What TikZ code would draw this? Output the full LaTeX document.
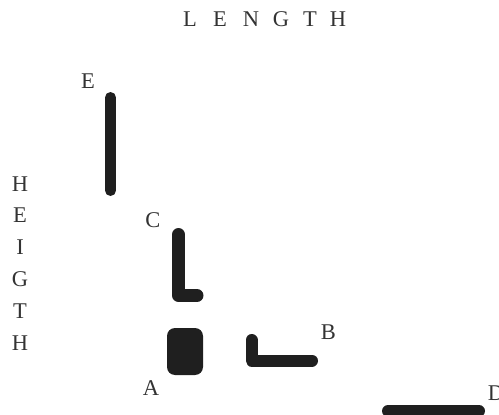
\documentclass[tikz,border=0pt]{standalone}
\usepackage{fontspec}
\setmainfont{Liberation Serif}
\begin{document}
\begin{tikzpicture}[x=1pt,y=-1pt,
  lbl/.style={inner sep=0pt,text=black!80,font=\fontsize{22.5}{22.5}\selectfont},
  bar/.style={draw=black!88,line cap=round,line join=round},
  blk/.style={fill=black!88,rounded corners=8pt}]
\useasboundingbox (0,0) rectangle (499,415);
\clip (0,0) rectangle (499,415);
% LENGTH
\foreach \ch/\xx [count=\i] in {L/190,E/220,N/251,G/281,T/310,H/338}
  \node[lbl] (len\i) at (\xx,19) {\ch};
% HEIGTH
\foreach \ch/\yy [count=\i] in {H/184,E/215,I/247,G/279,T/311,H/343}
  \node[lbl] (hei\i) at (20,\yy) {\ch};
% labels
\node[lbl] (labE) at (88,81.5) {E};
\node[lbl] (labC) at (153,220.5) {C};
\node[lbl] (labA) at (151,388) {A};
\node[lbl] (labB) at (328.5,332.5) {B};
\node[lbl] (labD) at (496,393) {D};
% shapes
\draw[bar,line width=11pt] (110.5,97.5) -- (110.5,190.5);
\draw[bar,line width=13pt] (178.5,234.5) -- (178.5,295.5) -- (197,295.5);
\fill[blk] (167,328) rectangle (203,375);
\draw[bar,line width=12pt] (251.5,340) -- (251.5,360.5) -- (312,360.5);
\draw[bar,line width=12pt] (388,411) -- (479,411);
\end{tikzpicture}
\end{document}
